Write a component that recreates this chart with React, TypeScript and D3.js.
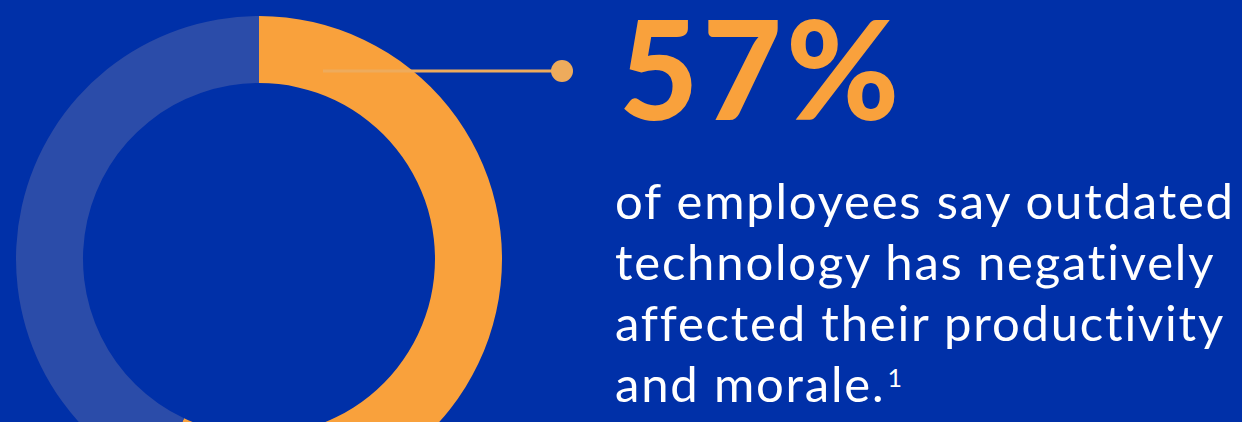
import { useEffect, useRef } from "react";
import * as d3 from "d3";

const width = 1242;
const height = 422;

// share of employees, and the rest of the ring
const labels = ["affected", "rest"];
const values = [57, 43];
const colors = ["#f9a13c", "#2b4ca9"];

const headline = "57%";
const bodyLines = [
  "of employees say outdated",
  "technology has negatively",
  "affected their productivity",
  "and morale.",
];
const footnote = "1";

const bg = "#0030a8";

const App = () => {
  const svgRef = useRef<SVGSVGElement | null>(null);

  useEffect(() => {
    if (!svgRef.current) return;
    const svg = d3.select(svgRef.current);
    svg.selectAll("*").remove();

    svg.append("rect").attr("width", width).attr("height", height).attr("fill", bg);

    const cx = 259;
    const cy = 259;
    const outer = 243;
    const inner = 176;

    const pie = d3.pie<number>().sort(null).value(d => d);
    const arc = d3.arc<d3.PieArcDatum<number>>().innerRadius(inner).outerRadius(outer);

    const g = svg.append("g").attr("transform", `translate(${cx},${cy})`);
    g.selectAll("path")
      .data(pie(values))
      .enter()
      .append("path")
      .attr("d", arc)
      .attr("fill", (_d, i) => colors[i])
      .attr("data-label", (_d, i) => labels[i]);

    // leader line + dot
    const lineY = 71;
    svg.append("line")
      .attr("x1", 323).attr("x2", 562)
      .attr("y1", lineY).attr("y2", lineY)
      .attr("stroke", "#eeab5c").attr("stroke-width", 3);
    svg.append("circle")
      .attr("cx", 562).attr("cy", lineY).attr("r", 11)
      .attr("fill", "#eeab5c");

    svg.append("text")
      .attr("x", 619).attr("y", 120)
      .attr("fill", colors[0])
      .attr("font-family", "Lato, sans-serif")
      .attr("font-weight", 900)
      .attr("font-size", 137)
      .attr("letter-spacing", 4)
      .text(headline);

    const body = svg.append("g")
      .attr("fill", "#ffffff")
      .attr("font-family", "Lato, sans-serif")
      .attr("font-size", 49)
      .attr("letter-spacing", 1.8)
      .style("font-variant-ligatures", "none");

    bodyLines.forEach((t, i) => {
      const txt = body.append("text")
        .attr("x", 615)
        .attr("y", 219 + i * 61)
        .text(t);
      if (i === bodyLines.length - 1) {
        txt.append("tspan")
          .attr("font-size", 25)
          .attr("dx", 2)
          .attr("dy", -15)
          .text(footnote);
      }
    });
  }, []);

  return (
    <svg
      ref={svgRef}
      width={width}
      height={height}
      viewBox={`0 0 ${width} ${height}`}
      style={{ position: "absolute", left: 0, top: 0 }}
    />
  );
};

export default App;
